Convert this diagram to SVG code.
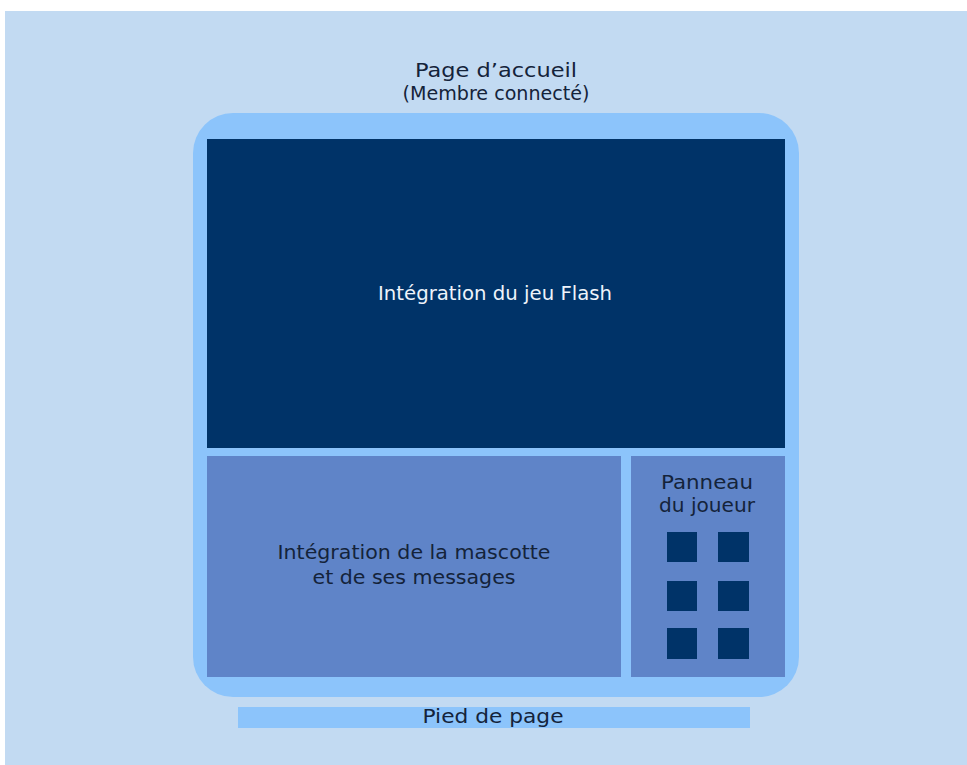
<svg xmlns="http://www.w3.org/2000/svg" width="967" height="765" viewBox="0 0 967 765">
<style>
text{font-family:"DejaVu Sans","Liberation Sans",sans-serif;font-size:19px;text-anchor:middle}
.dk{fill:#14233a}
.wt{fill:#eef4fb}
.sq{fill:#003368}
</style>
<rect x="0" y="0" width="967" height="765" fill="#ffffff"/>
<rect x="5" y="11" width="962" height="754" fill="#c2daf2"/>
<g id="title">
<text class="dk" x="496" y="77" textLength="162" lengthAdjust="spacingAndGlyphs">Page d’accueil</text>
<text class="dk" x="496" y="100" textLength="187" lengthAdjust="spacingAndGlyphs">(Membre connecté)</text>
</g>
<g id="page">
<rect x="193" y="113" width="606" height="584" rx="40" fill="#8cc4fb"/>
</g>
<g id="flash">
<rect x="207" y="139" width="578" height="309" fill="#003368"/>
<text class="wt" x="495" y="300" textLength="234" lengthAdjust="spacingAndGlyphs">Intégration du jeu Flash</text>
</g>
<g id="mascotte">
<rect x="207" y="456" width="414" height="221" fill="#5f84c8"/>
<text class="dk" x="414" y="559" textLength="273" lengthAdjust="spacingAndGlyphs">Intégration de la mascotte</text>
<text class="dk" x="414" y="584" textLength="203" lengthAdjust="spacingAndGlyphs">et de ses messages</text>
</g>
<g id="panneau">
<rect x="631" y="456" width="154" height="221" fill="#5f84c8"/>
<text class="dk" x="707" y="489" textLength="92" lengthAdjust="spacingAndGlyphs">Panneau</text>
<text class="dk" x="707" y="512" textLength="96" lengthAdjust="spacingAndGlyphs">du joueur</text>
<rect class="sq" x="667" y="532" width="30" height="30"/>
<rect class="sq" x="718" y="532" width="31" height="30"/>
<rect class="sq" x="667" y="581" width="30" height="30"/>
<rect class="sq" x="718" y="581" width="31" height="30"/>
<rect class="sq" x="667" y="628" width="30" height="31"/>
<rect class="sq" x="718" y="628" width="31" height="31"/>
</g>
<g id="footer">
<rect x="238" y="707" width="512" height="21" fill="#8cc4fb"/>
<text class="dk" x="493" y="723" textLength="141" lengthAdjust="spacingAndGlyphs">Pied de page</text>
</g>
<g id="connectors"></g>
</svg>
